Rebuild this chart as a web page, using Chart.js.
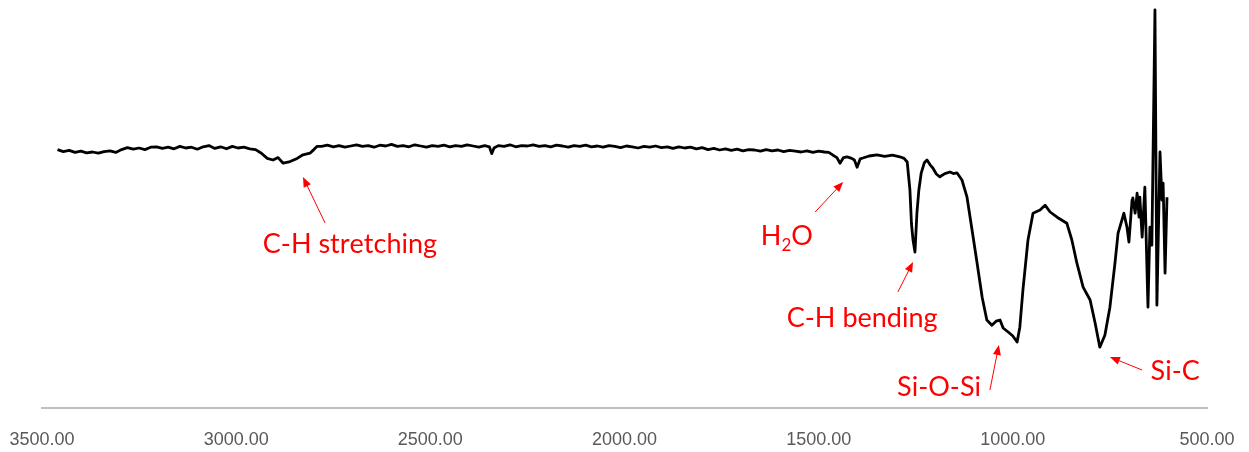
<!DOCTYPE html>
<html lang="en">
<head>
    <meta charset="UTF-8">
    <title>FTIR spectrum</title>
    <script src="https://cdn.jsdelivr.net/npm/chart.js"></script>
    <style>
        * { margin: 0; padding: 0; box-sizing: border-box; }
        body { background: #ffffff; width: 1249px; height: 452px; overflow: hidden; }
        canvas { display: block; }
    </style>
</head>
<body>
    <canvas id="chart" width="1249" height="452"></canvas>

    <script>
        // wavenumber (cm-1)
        const wavenumbers = [
            3460, 3445, 3430, 3415, 3400, 3385, 3370, 3355, 3340, 3325, 3310, 3295, 3280, 3265, 3250, 3235, 3220,
            3205, 3190, 3175, 3160, 3145, 3130, 3115, 3100, 3085, 3070, 3055, 3040, 3025, 3010, 2995, 2980, 2965,
            2950, 2935, 2920, 2905, 2892, 2879, 2861, 2843, 2828, 2810, 2800, 2792,
            2780, 2765, 2750, 2735, 2720, 2705, 2690, 2675, 2660, 2645, 2630, 2615, 2600, 2585, 2570, 2555, 2540,
            2525, 2510, 2495, 2480, 2465, 2450, 2435, 2420, 2405, 2390, 2375, 2360,
            2348, 2342, 2336,
            2325, 2310, 2295, 2280, 2265, 2250, 2235, 2220, 2205, 2190, 2175, 2160, 2145, 2130, 2115, 2100, 2085,
            2070, 2055, 2040, 2025, 2010, 1995, 1980, 1965, 1950, 1935, 1920, 1905, 1890, 1875, 1860, 1845, 1830,
            1815, 1800, 1785, 1770, 1755, 1740, 1725, 1710, 1695, 1680, 1665, 1650, 1635, 1620, 1605, 1590, 1575,
            1560, 1545, 1530, 1515, 1500, 1485,
            1474, 1463, 1453, 1445, 1436, 1427, 1415, 1408, 1401, 1393, 1386, 1370, 1350, 1330, 1310, 1291, 1280,
            1272, 1265, 1261, 1257, 1252, 1247, 1242, 1236, 1228, 1221, 1213, 1206, 1197, 1188, 1175, 1162, 1153, 1144,
            1131, 1118, 1105, 1092, 1079, 1067, 1054, 1043, 1033, 1025, 1012, 1000, 989, 982, 974, 961, 948, 930,
            917, 904, 886, 861, 848, 835, 819, 801, 788, 776, 763, 750, 737, 729, 719, 714, 706, 701, 693, 691,
            685, 680, 675, 673, 667, 660, 652, 647, 642, 634, 629, 621, 616, 613, 608, 603
        ];
        // transmittance (arbitrary %), same order
        const transmittance = [
            64.6, 64.1, 64.4, 63.9, 64.2, 63.8, 64.0, 63.7, 64.1, 64.3, 63.9, 64.6, 65.1, 64.7, 65.0, 64.6, 65.2,
            65.3, 64.9, 65.2, 64.8, 65.4, 65.0, 65.2, 64.7, 65.3, 65.6, 64.9, 65.3, 64.8, 65.4, 65.0, 65.2, 64.8,
            64.6, 63.7, 62.4, 62.0, 62.6, 61.2, 61.6, 62.4, 63.3, 63.7, 64.6, 65.4,
            65.4, 65.7, 65.3, 65.6, 65.2, 65.5, 65.8, 65.4, 65.6, 65.2, 65.7, 65.5, 65.9, 65.4, 65.6, 65.3, 65.8,
            65.5, 65.2, 65.6, 65.4, 65.7, 65.3, 65.6, 65.4, 65.8, 65.5, 65.2, 65.6,
            65.3, 63.6, 65.0,
            65.6, 65.4, 65.8, 65.3, 65.6, 65.5, 65.8, 65.4, 65.6, 65.3, 65.7, 65.5, 65.2, 65.6, 65.4, 65.7, 65.3,
            65.5, 65.2, 65.6, 65.4, 65.1, 65.5, 65.3, 65.0, 65.4, 65.2, 65.5, 65.1, 65.3, 64.9, 65.3, 65.0, 65.2,
            64.8, 65.1, 64.6, 64.9, 64.5, 64.8, 64.4, 64.7, 64.3, 64.6, 64.5, 64.2, 64.6, 64.3, 64.5, 64.1, 64.4,
            64.2, 64.0, 64.3, 63.9, 64.2, 64.0,
            63.9, 63.2, 62.6, 61.2, 62.6, 62.8, 62.4, 62.0, 60.2, 62.3, 62.5, 63.0, 63.3, 62.9, 63.2, 62.8, 62.4,
            61.5, 54.5, 46.0, 42.0, 39.0, 48.7, 54.5, 58.7, 61.3, 62.0, 60.8, 60.0, 58.5, 57.8, 58.6, 59.0, 58.6, 58.8,
            57.0, 52.7, 44.5, 36.2, 27.7, 22.0, 20.7, 21.7, 22.0, 20.0, 19.0, 18.0, 16.5, 20.2, 29.5, 42.0, 48.7, 49.5,
            50.7, 49.0, 47.7, 46.2, 42.0, 36.2, 30.2, 27.0, 21.2, 15.2, 18.2, 25.2, 36.2, 43.7, 47.0, 48.7, 45.2, 41.5, 52.0, 52.5,
            48.7, 53.7, 47.7, 52.7, 42.7, 55.2, 25.2, 45.2, 40.7, 99.5, 25.7, 64.0, 52.0, 56.2, 33.7, 52.7
        ];

        // peak labels: text, text position, arrow tail, arrow tip (wavenumber, transmittance)
        const labelTexts = ["C-H stretching", "H₂O", "C-H bending", "Si-O-Si", "Si-C"];
        const labelPos = [[2707, 38.75], [1582, 40.75], [1388, 20.25], [1190, 3], [582, 7]];
        const arrowFrom = [[2771, 46.25], [1509, 49], [1296, 29], [1059, 4.5], [667, 9.5]];
        const arrowTo = [[2828, 57.75], [1437, 56.5], [1257, 36.5], [1036, 15.75], [750, 12.75]];

        const RED = "#ff0000";
        const LABEL_FONT = "27px Lato, 'Open Sans', sans-serif";
        const SUB_FONT = "17px Lato, 'Open Sans', sans-serif";

        function drawLabel(ctx, txt, cx, cy) {
            // '₂' is drawn as a lowered small 2
            const parts = [...txt].map(ch => ch === "₂" ? { t: "2", sub: true } : { t: ch, sub: false });
            let total = 0;
            parts.forEach(p => {
                ctx.font = p.sub ? SUB_FONT : LABEL_FONT;
                p.w = ctx.measureText(p.t).width;
                total += p.w;
            });
            let xx = cx - total / 2;
            parts.forEach(p => {
                ctx.font = p.sub ? SUB_FONT : LABEL_FONT;
                ctx.fillText(p.t, xx, p.sub ? cy + 6 : cy);
                xx += p.w;
            });
        }

        const peakLabels = {
            id: "peakLabels",
            afterDatasetsDraw(chart) {
                const { ctx, scales: { x, y } } = chart;
                ctx.save();
                ctx.strokeStyle = RED;
                ctx.fillStyle = RED;
                ctx.lineWidth = 1;
                ctx.textAlign = "left";
                ctx.textBaseline = "alphabetic";
                labelTexts.forEach((txt, i) => {
                    const x0 = x.getPixelForValue(arrowFrom[i][0]), y0 = y.getPixelForValue(arrowFrom[i][1]);
                    const x1 = x.getPixelForValue(arrowTo[i][0]), y1 = y.getPixelForValue(arrowTo[i][1]);
                    const a = Math.atan2(y1 - y0, x1 - x0);
                    const c = Math.cos(a), s = Math.sin(a);
                    ctx.beginPath();
                    ctx.moveTo(x0, y0);
                    ctx.lineTo(x1 - 8 * c, y1 - 8 * s);
                    ctx.stroke();
                    ctx.beginPath();
                    ctx.moveTo(x1, y1);
                    ctx.lineTo(x1 - 10 * c + 4 * s, y1 - 10 * s - 4 * c);
                    ctx.lineTo(x1 - 10 * c - 4 * s, y1 - 10 * s + 4 * c);
                    ctx.closePath();
                    ctx.fill();
                    drawLabel(ctx, txt, x.getPixelForValue(labelPos[i][0]), y.getPixelForValue(labelPos[i][1]));
                });
                ctx.restore();
            }
        };

        new Chart(document.getElementById("chart"), {
            type: "line",
            data: {
                datasets: [{
                    data: wavenumbers.map((w, i) => ({ x: w, y: transmittance[i] })),
                    borderColor: "#000000",
                    borderWidth: 2.8,
                    borderJoinStyle: "round",
                    pointRadius: 0,
                    tension: 0,
                    fill: false
                }]
            },
            options: {
                responsive: false,
                animation: false,
                layout: { padding: { left: 42, right: 42, top: 8, bottom: 0 } },
                plugins: { legend: { display: false }, tooltip: { enabled: false } },
                scales: {
                    x: {
                        type: "linear",
                        reverse: true,
                        min: 500,
                        max: 3500,
                        grid: { display: false, drawTicks: false },
                        border: { display: true, color: "#bfbfbf", width: 2 },
                        ticks: {
                            stepSize: 500,
                            padding: 21,
                            color: "#595959",
                            autoSkip: false,
                            maxRotation: 0,
                            font: { family: "'Liberation Sans', Arial, sans-serif", size: 18 },
                            callback: v => v.toFixed(2)
                        },
                        afterFit: scale => {
                            scale.height = 44;
                            scale.paddingLeft = 0;
                            scale.paddingRight = 0;
                        }
                    },
                    y: { display: false, min: 0, max: 100 }
                }
            },
            plugins: [peakLabels]
        });
    </script>
</body>
</html>
